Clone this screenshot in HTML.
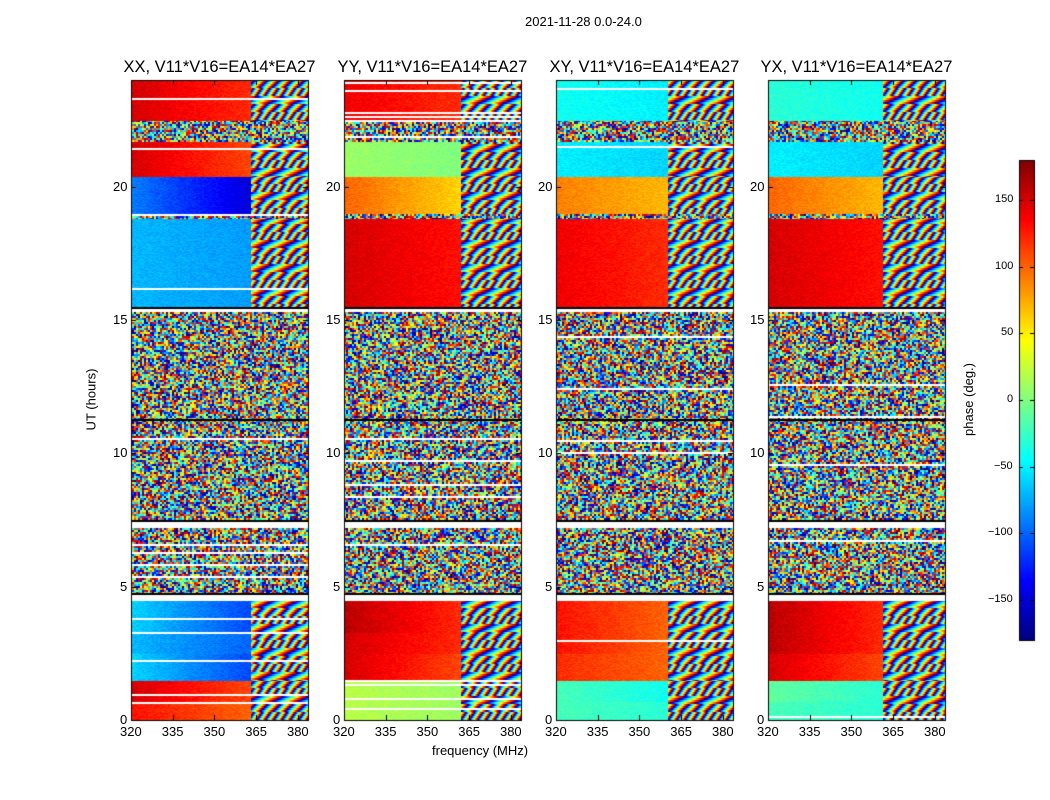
<!DOCTYPE html>
<html><head><meta charset="utf-8"><style>
body{margin:0;background:#fff;width:1050px;height:800px;overflow:hidden;position:relative;font-family:"Liberation Sans",sans-serif;}
.t{position:absolute;white-space:nowrap;color:#000;}
canvas{position:absolute;}
</style></head><body>
<div class="t" style="left:525px;top:14px;font-size:13px;">2021-11-28 0.0-24.0</div>
<div class="t" style="left:60px;top:392px;font-size:13px;transform:rotate(-90deg);">UT (hours)</div>
<div class="t" style="left:432px;top:743px;font-size:13px;">frequency (MHz)</div>
<div class="t" style="left:932px;top:392px;font-size:13px;transform:rotate(-90deg);">phase (deg.)</div>
<canvas id="cv" width="1050" height="800" style="left:0;top:0"></canvas>
<div id="labels"></div>
<script>
// ---- data ----
const panelNames = ["XX, V11*V16=EA14*EA27","YY, V11*V16=EA14*EA27","XY, V11*V16=EA14*EA27","YX, V11*V16=EA14*EA27"];
const freqTicks = [320,335,350,365,380];
const timeTicks = [0,5,10,15,20];
const cbarTicks = [150,100,50,0,-50,-100,-150];
// time bands: start, end, kind (g=smooth gradient, n=noise, w=blank)
const bandStart = [0,0.7,1.5,2.5,3.3,4.5,4.75,7.2,7.5,11.3,15.3,15.5,18.8,19.0,20.4,21.7,22.5];
const bandEnd   = [0.7,1.5,2.5,3.3,4.5,4.75,7.2,7.5,11.3,15.3,15.5,18.8,19.0,20.4,21.7,22.5,24];
const bandKind  = ["g","g","g","g","g","w","n","w","n","n","w","g","n","g","g","n","g"];
// phase at left (320 MHz) and right (363 MHz) edges of smooth bands per panel
const phaseL = [
 [130,150,-60,-70,-60,0,0,0,0,0,0,-70,0,-90,150,0,150],
 [20,20,150,150,160,0,0,0,0,0,0,150,0,100,10,0,140],
 [-20,-20,120,130,130,0,0,0,0,0,0,140,0,90,-50,0,-40],
 [-20,-10,150,160,160,0,0,0,0,0,0,150,0,100,-50,0,-30]];
const phaseR = [
 [100,110,-110,-100,-110,0,0,0,0,0,0,-80,0,-150,110,0,120],
 [10,10,110,120,120,0,0,0,0,0,0,130,0,60,0,0,120],
 [-30,-40,100,100,100,0,0,0,0,0,0,120,0,70,-60,0,-50],
 [-30,-30,110,120,120,0,0,0,0,0,0,130,0,70,-60,0,-40]];
const fringeStart = [363,362,360,361];
// ---- layout ----
const panelX=[131,344,556,768], PW=177, PT=80, PB=720;
const fMin=320,fMax=383.6,tMax=24;
const fx=(p,f)=>panelX[p]+(f-fMin)/(fMax-fMin)*PW;
const ty=t=>PB-t/tMax*(PB-PT);
function jet(v){
  const c=x=>Math.max(0,Math.min(1,x));
  return [c(1.5-Math.abs(4*v-3)),c(1.5-Math.abs(4*v-2)),c(1.5-Math.abs(4*v-1))].map(x=>Math.round(x*255));
}
const pv=ph=>((ph+180)%360+360)%360/360;
function hash(a,b,c){let h=(a*374761393+b*668265263+c*2147483647)|0;h=(h^(h>>>13))*1274126177;h=h^(h>>>16);return ((h>>>0)%10000)/10000;}
const ctx=document.getElementById('cv').getContext('2d');
const img=ctx.createImageData(1050,800);
for(let p=0;p<4;p++){
  for(let y=PT;y<PB;y++){
    const t=(PB-y)/(PB-PT)*tMax;
    let b=0;for(let i=0;i<bandStart.length;i++)if(t>=bandStart[i]&&t<bandEnd[i])b=i;
    const kind=bandKind[b];
    const stripe=hash(Math.floor(y/2),p,7)<0.03;
    for(let x=panelX[p];x<panelX[p]+PW;x++){
      const f=fMin+(x-panelX[p])/PW*(fMax-fMin);
      let col;
      if(kind==="w"||stripe){col=[255,255,255];}
      else if(kind==="n"){col=jet(hash(Math.floor(x/2),Math.floor(y/2),p));}
      else if(f>fringeStart[p]){
        const ph=phaseR[p][b]+ (f-fringeStart[p])*40*(1+((y>>3)%3))+ ((y>>1)%4)*60;
        col=jet(pv(ph));
      } else {
        const u=(f-fMin)/(fringeStart[p]-fMin);
        const ph=phaseL[p][b]*(1-u)+phaseR[p][b]*u+(hash(x>>1,y,p)-0.5)*15;
        col=jet(pv(ph));
      }
      const k=(y*1050+x)*4;img.data[k]=col[0];img.data[k+1]=col[1];img.data[k+2]=col[2];img.data[k+3]=255;
    }
  }
}
for(let y=160;y<640;y++){const col=jet((640-y)/480);for(let x=1019;x<1034;x++){const k=(y*1050+x)*4;img.data[k]=col[0];img.data[k+1]=col[1];img.data[k+2]=col[2];img.data[k+3]=255;}}
ctx.putImageData(img,0,0);
ctx.strokeStyle="#000";ctx.lineWidth=1;
ctx.fillStyle="#000";
[4.75,7.5,11.3,15.5].forEach(t=>{for(let p=0;p<4;p++){ctx.fillRect(panelX[p],Math.round(ty(t)),PW,2);}});
for(let p=0;p<4;p++){
  ctx.strokeRect(panelX[p]+0.5,PT+0.5,PW,PB-PT);
  freqTicks.forEach(f=>{const x=Math.round(fx(p,f))+0.5;ctx.beginPath();ctx.moveTo(x,PB);ctx.lineTo(x,PB-5);ctx.moveTo(x,PT);ctx.lineTo(x,PT+5);ctx.stroke();});
  timeTicks.forEach(t=>{const y=Math.round(ty(t))+0.5;ctx.beginPath();ctx.moveTo(panelX[p],y);ctx.lineTo(panelX[p]+5,y);ctx.moveTo(panelX[p]+PW,y);ctx.lineTo(panelX[p]+PW-5,y);ctx.stroke();});
}
ctx.strokeRect(1019.5,160.5,15,480);
const L=document.getElementById('labels');
function lab(txt,x,y,size,name,align){
  const d=document.createElement('div');d.className='t';d.textContent=txt;
  d.style.fontSize=size+'px';d.style.top=y+'px';
  
  
  L.appendChild(d);
  const w=d.offsetWidth;
  d.style.left=(align==='c'?x-w/2:align==='r'?x-w:x)+'px';
}
for(let p=0;p<4;p++){
  lab(panelNames[p],panelX[p]+PW/2,58,16.5,'panel-title','c');
  freqTicks.forEach(f=>lab(String(f),fx(p,f),724,13,'x-tick-label','c'));
  timeTicks.forEach(t=>lab(String(t),panelX[p]-4,ty(t)-8,13,'y-tick-label','r'));
}
cbarTicks.forEach(v=>{const y=640-(v+180)/360*480;lab(v<0?'\u2212'+(-v):String(v),1013,y-7,11,'colorbar-tick-label','r');
  ctx.beginPath();ctx.moveTo(1019,Math.round(y)+0.5);ctx.lineTo(1023,Math.round(y)+0.5);ctx.moveTo(1034,Math.round(y)+0.5);ctx.lineTo(1030,Math.round(y)+0.5);ctx.stroke();});
</script>
</body></html>
